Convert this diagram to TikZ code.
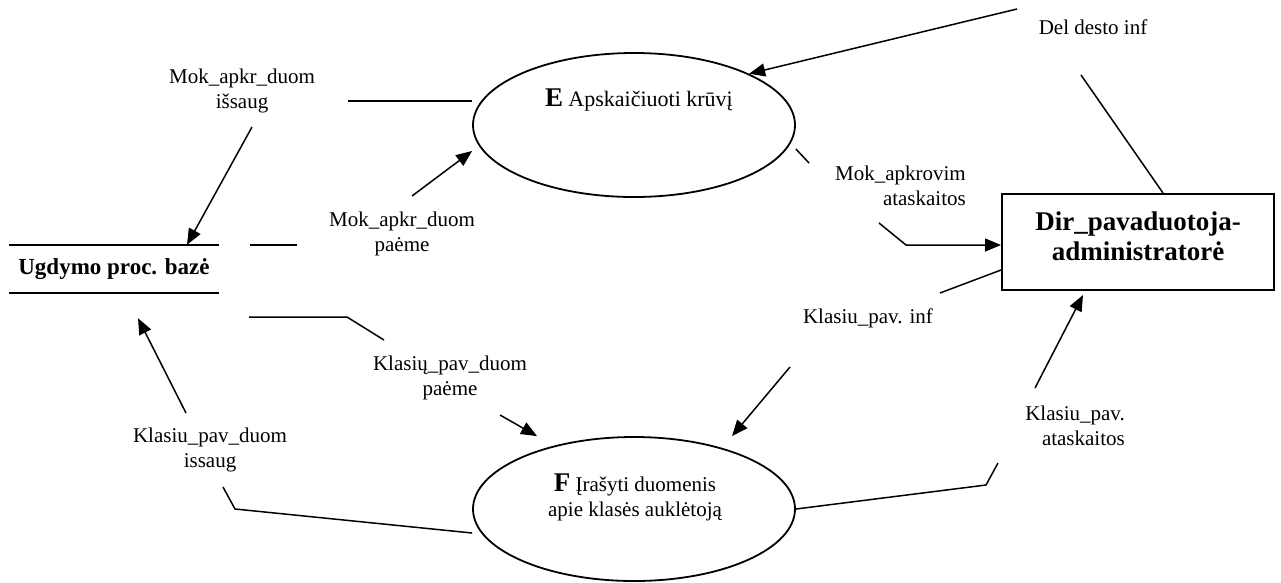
\documentclass[tikz,border=0pt]{standalone}
\usepackage{fontspec}
\setmainfont{Liberation Serif}
\usetikzlibrary{shapes.geometric, arrows.meta, positioning}

\begin{document}
\begin{tikzpicture}[
    x=1pt, y=-1pt,
    proc/.style = {ellipse, draw, line width=1.8pt, minimum width=322pt, minimum height=144pt, inner sep=0pt},
    ent/.style = {rectangle, draw, line width=2pt, minimum width=272pt, minimum height=96pt, align=center, font=\fontsize{27}{30}\selectfont\bfseries},
    store/.style = {rectangle, minimum width=210pt, minimum height=48pt, inner sep=0pt, font=\fontsize{23}{27}\selectfont\bfseries},
    lbl/.style = {align=center, inner sep=0pt, font=\fontsize{21}{25}\selectfont},
    line/.style = {line width=1.5pt},
    arrow/.style = {line width=1.5pt, -{Triangle[length=16pt, width=13pt]}}
]
\useasboundingbox (0,0) rectangle (1281,582);

% Processes, store and entity
\node (E) [proc] at (634,125) {};
\node (Etxt) [lbl] at (639,100) {{\fontsize{27}{30}\selectfont\bfseries E} {\fontsize{22}{26}\selectfont Apskaičiuoti krūvį}};
\node (F) [proc] at (634,509) {};
\node (Ftxt) [lbl] at (635,497) {{\fontsize{27}{30}\selectfont\bfseries F} Įrašyti duomenis\\apie klasės auklėtoją};
\node (base) [store] at (114,269) {Ugdymo proc. bazė};
\node (dir) [ent] at (1138,242) {Dir\_pavaduotoja-\\administratorė\\[-18pt]\mbox{}};
\draw [line] (base.north west) -- (base.north east);
\draw [line] (base.south west) -- (base.south east);

% Flow labels
\node (saveE) [lbl] at (242,91) {Mok\_apkr\_duom\\išsaug};
\node (takeE) [lbl] at (402,234) {Mok\_apkr\_duom\\paėme};
\node (repE) [lbl, align=right, anchor=east] at (966,186) {Mok\_apkrovim\\ataskaitos};
\node (del) [lbl] at (1093,27) {Del desto inf};
\node (infF) [lbl] at (868,318) {Klasiu\_pav. inf};
\node (repF) [lbl, align=right, anchor=east] at (1125,426) {Klasiu\_pav.\\ataskaitos};
\node (takeF) [lbl] at (450,378) {Klasių\_pav\_duom\\paėme};
\node (saveF) [lbl] at (210,450) {Klasiu\_pav\_duom\\issaug};

% Bends and free ends
\coordinate (saveE1) at (348,101);
\coordinate (saveE2) at (252,127);
\coordinate (takeE1) at (250,245);
\coordinate (takeE2) at (297,245);
\coordinate (takeE3) at (412,196);
\coordinate (takeF1) at (249,317);
\coordinate (takeF2) at (347,317);
\coordinate (takeF3) at (384,340);
\coordinate (takeF4) at (500,415);
\coordinate (saveF1) at (235,509);
\coordinate (saveF2) at (223,487);
\coordinate (saveF3) at (186,413);
\coordinate (repE1) at (809,163);
\coordinate (repE2) at (879,223);
\coordinate (repE3) at (906,245);
\coordinate (infF1) at (940,293);
\coordinate (infF2) at (790,367);
\coordinate (repF1) at (986,485);
\coordinate (repF2) at (998,463);
\coordinate (repF3) at (1035,388);
\coordinate (del1) at (1081,75);
\coordinate (del2) at (1017,9);

% Arrows
\draw [line] ([yshift=24pt]E.west) -- (saveE1);
\draw [arrow] (saveE2) -- ([xshift=73pt]base.north);
\draw [line] (takeE1) -- (takeE2);
\draw [arrow] (takeE3) -- ([yshift=-26pt]E.west);
\draw [line] (takeF1) -- (takeF2) -- (takeF3);
\draw [arrow] (takeF4) -- ([xshift=-97pt]F.north);
\draw [line] ([yshift=-24pt]F.west) -- (saveF1) -- (saveF2);
\draw [arrow] (saveF3) -- ([xshift=24pt, yshift=-25pt]base.south);
\draw [line] ([yshift=-24pt]E.east) -- (repE1);
\draw [arrow] (repE2) -- (repE3) -- ([yshift=-3pt]dir.west);
\draw [line] ([yshift=-28pt]dir.west) -- (infF1);
\draw [arrow] (infF2) -- ([xshift=98pt]F.north);
\draw [line] (F.east) -- (repF1) -- (repF2);
\draw [arrow] (repF3) -- ([xshift=-55pt, yshift=-4pt]dir.south);
\draw [line] ([xshift=25pt]dir.north) -- (del1);
\draw [arrow] (del2) -- (E.24);

\end{tikzpicture}
\end{document}
